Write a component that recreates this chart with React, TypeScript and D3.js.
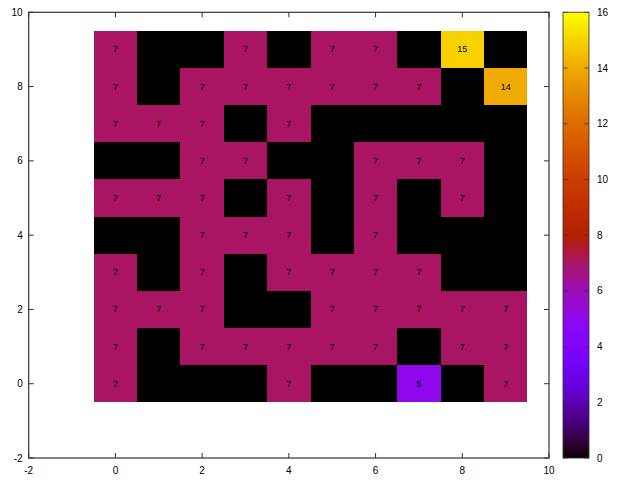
import React from "react";
import * as d3 from "d3";

const xCats = [0, 1, 2, 3, 4, 5, 6, 7, 8, 9];
const yCats = [9, 8, 7, 6, 5, 4, 3, 2, 1, 0];
// rows listed from top (y=9) to bottom (y=0)
const row9 = [7, 0, 0, 7, 0, 7, 7, 0, 15, 0];
const row8 = [7, 0, 7, 7, 7, 7, 7, 7, 0, 14];
const row7 = [7, 7, 7, 0, 7, 0, 0, 0, 0, 0];
const row6 = [0, 0, 7, 7, 0, 0, 7, 7, 7, 0];
const row5 = [7, 7, 7, 0, 7, 0, 7, 0, 7, 0];
const row4 = [0, 0, 7, 7, 7, 0, 7, 0, 0, 0];
const row3 = [7, 0, 7, 0, 7, 7, 7, 7, 0, 0];
const row2 = [7, 7, 7, 0, 0, 7, 7, 7, 7, 7];
const row1 = [7, 0, 7, 7, 7, 7, 7, 0, 7, 7];
const row0 = [7, 0, 0, 0, 7, 0, 0, 5, 0, 7];
const rows = [row9, row8, row7, row6, row5, row4, row3, row2, row1, row0];

const axisTicks = [-2, 0, 2, 4, 6, 8, 10];
const cbTicks = [0, 2, 4, 6, 8, 10, 12, 14, 16];

function palette(v: number) {
  const t = Math.max(0, Math.min(1, v / 16));
  const r = Math.sqrt(t);
  const g = t * t * t;
  const b = Math.max(0, Math.sin(2 * Math.PI * t));
  return d3.rgb(r * 255, g * 255, b * 255).formatHex();
}

export default function App() {
  const W = 640, H = 480;
  const x = d3.scaleLinear().domain([-2, 10]).range([28.7, 549]);
  const y = d3.scaleLinear().domain([-2, 10]).range([458, 12.3]);
  const cb = d3.scaleLinear().domain([0, 16]).range([458, 12.3]);
  const cbX0 = 563, cbX1 = 589;
  const tick = 5;
  const font = "'Liberation Sans', Arial, sans-serif";
  const border = "#333333";

  const cells: { xv: number; yv: number; v: number }[] = [];
  rows.forEach((r, ri) => r.forEach((v, ci) => cells.push({ xv: xCats[ci], yv: yCats[ri], v })));

  const stops = d3.range(0, 65).map((i) => i / 64);

  return (
    <svg width={W} height={H} style={{ position: "absolute", left: 0, top: 0, background: "#fff" }}>
      <defs>
        <linearGradient id="cbgrad" x1="0" y1="1" x2="0" y2="0">
          {stops.map((s) => (
            <stop key={s} offset={s} stopColor={palette(s * 16)} />
          ))}
        </linearGradient>
      </defs>
      <g shapeRendering="crispEdges">
        {cells.map((c, i) => {
          const x0 = Math.round(x(c.xv - 0.5));
          const x1 = Math.round(x(c.xv + 0.5));
          const y0 = Math.round(y(c.yv + 0.5));
          const y1 = Math.round(y(c.yv - 0.5));
          return <rect key={i} x={x0} y={y0} width={x1 - x0} height={y1 - y0} fill={palette(c.v)} />;
        })}
      </g>
      {cells.filter((c) => c.v !== 0).map((c, i) => (
        <text
          key={"t" + i}
          x={x(c.xv)}
          y={y(c.yv)}
          textAnchor="middle"
          dominantBaseline="central"
          fontFamily={font}
          fontSize={9}
          fill="#000"
        >
          {c.v}
        </text>
      ))}
      {axisTicks.map((t) => (
        <g key={"xt" + t} stroke={border} strokeWidth={1}>
          <line x1={x(t)} x2={x(t)} y1={y(-2)} y2={y(-2) - tick} />
          <line x1={x(t)} x2={x(t)} y1={y(10)} y2={y(10) + tick} />
          <line x1={x(-2)} x2={x(-2) + tick} y1={y(t)} y2={y(t)} />
          <line x1={x(10)} x2={x(10) - tick} y1={y(t)} y2={y(t)} />
        </g>
      ))}
      <rect x={x(-2)} y={y(10)} width={x(10) - x(-2)} height={y(-2) - y(10)} fill="none" stroke={border} strokeWidth={1.2} />
      {axisTicks.map((t) => (
        <text key={"xl" + t} x={x(t)} y={y(-2) + 12} textAnchor="middle" dominantBaseline="central" fontFamily={font} fontSize={10} fill="#000">
          {t}
        </text>
      ))}
      {axisTicks.map((t) => (
        <text key={"yl" + t} x={x(-2) - 6} y={y(t)} textAnchor="end" dominantBaseline="central" fontFamily={font} fontSize={10} fill="#000">
          {t}
        </text>
      ))}
      <rect x={cbX0} y={cb(16)} width={cbX1 - cbX0} height={cb(0) - cb(16)} fill="url(#cbgrad)" />
      {cbTicks.map((t) => (
        <g key={"ct" + t} stroke={border} strokeWidth={1} opacity={0.7}>
          <line x1={cbX0} x2={cbX0 + tick} y1={cb(t)} y2={cb(t)} />
          <line x1={cbX1} x2={cbX1 - tick} y1={cb(t)} y2={cb(t)} />
        </g>
      ))}
      <rect x={cbX0} y={cb(16)} width={cbX1 - cbX0} height={cb(0) - cb(16)} fill="none" stroke={border} strokeOpacity={0.7} strokeWidth={1.2} />
      {cbTicks.map((t) => (
        <text key={"cl" + t} x={cbX1 + 8} y={cb(t)} textAnchor="start" dominantBaseline="central" fontFamily={font} fontSize={10} fill="#000">
          {t}
        </text>
      ))}
    </svg>
  );
}
